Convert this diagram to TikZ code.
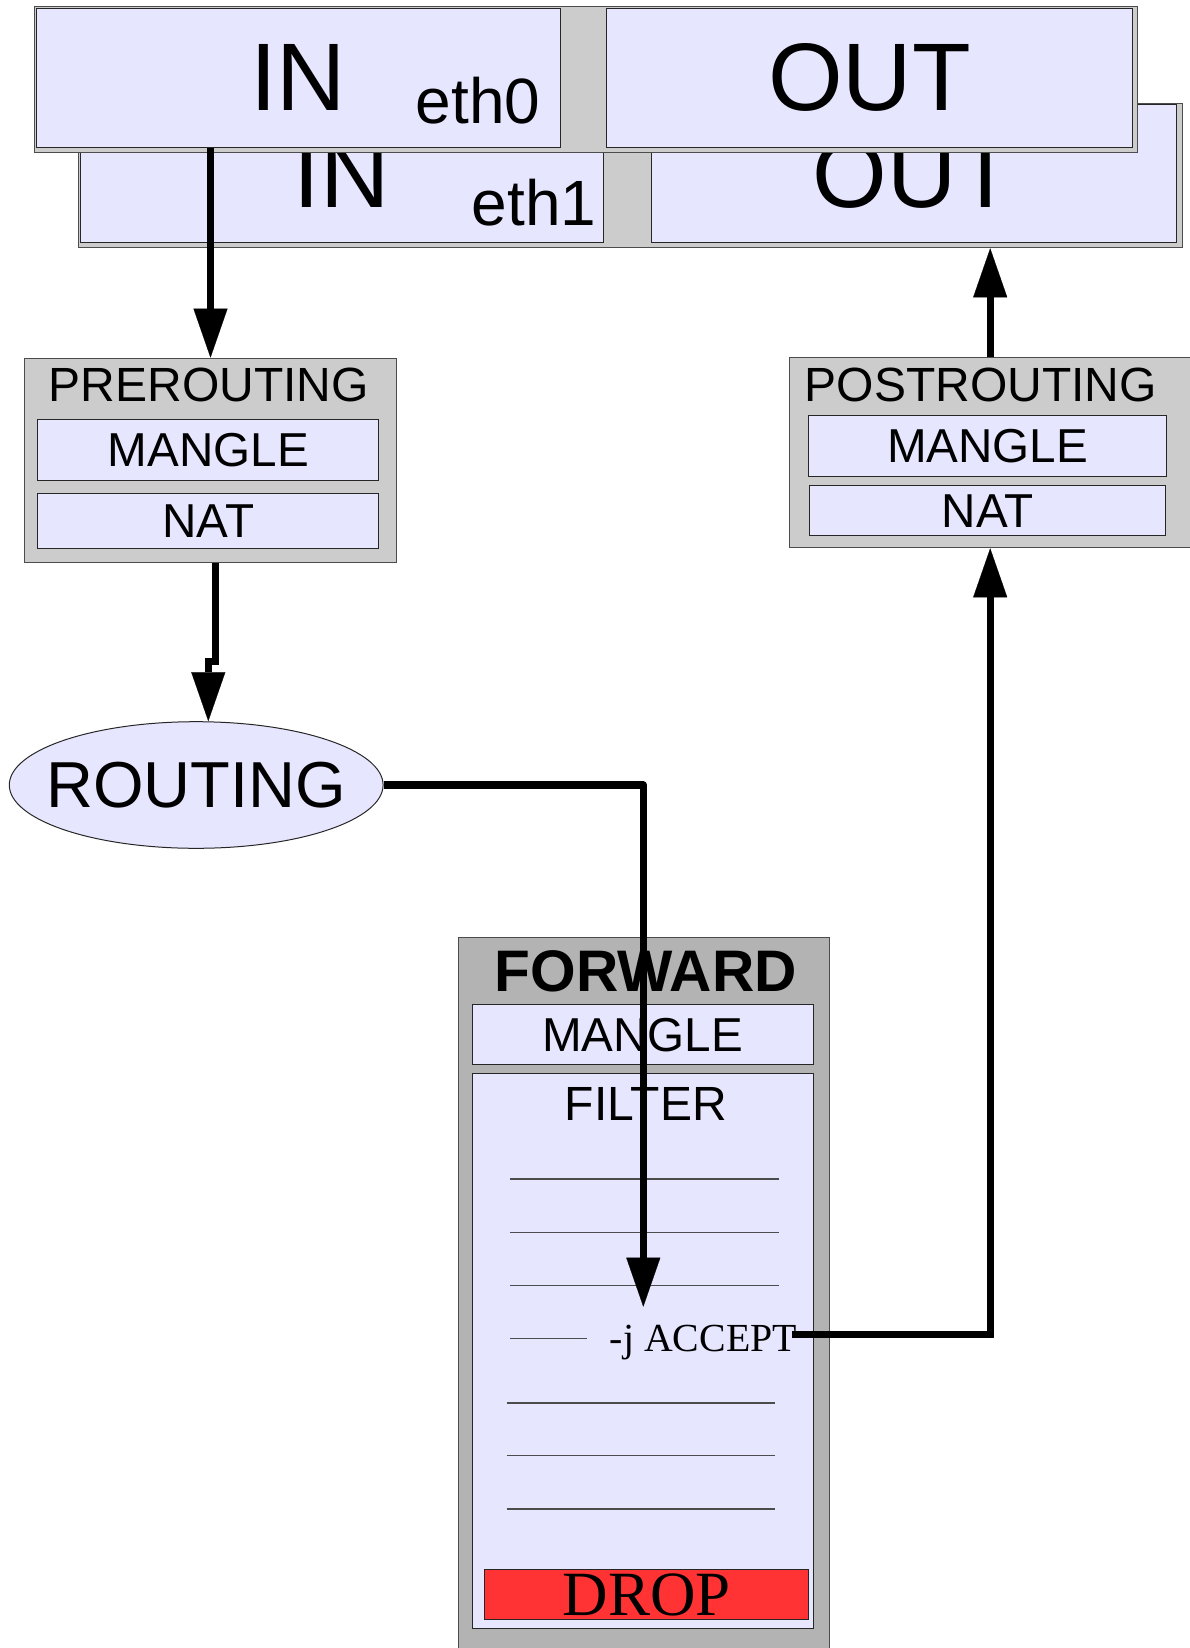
\documentclass[tikz,border=0pt]{standalone}
\usepackage{fontspec}
\setmainfont{Liberation Sans}
\newfontfamily\serifface{Liberation Serif}
\usetikzlibrary{positioning,shapes.geometric,arrows.meta}

\definecolor{tablefill}{RGB}{230,230,255}
\definecolor{chaingray}{RGB}{204,204,204}
\definecolor{fwdgray}{RGB}{179,179,179}
\definecolor{dropred}{RGB}{255,51,51}

\tikzset{
  chainbox/.style={draw=black!70, line width=0.5pt, fill=chaingray, inner sep=0pt, anchor=north west},
  tablebox/.style={draw=black!85, line width=0.5pt, fill=tablefill, inner sep=0pt, font=\fontsize{23.8pt}{24pt}\selectfont},
  iotext/.style={font=\fontsize{48pt}{48pt}\selectfont},
  ethtext/.style={anchor=base west, inner sep=0pt, font=\fontsize{32pt}{32pt}\selectfont},
  titletext/.style={anchor=base, inner sep=0pt, font=\fontsize{24pt}{24pt}\selectfont},
  flow/.style={line width=3.6pt, -{Triangle[width=17pt,length=24.5pt,line width=0.1pt]}},
  ruleline/.style={line width=0.6pt, black!70}
}

\begin{document}
\begin{tikzpicture}[x=0.5pt, y=-0.5pt]
  \useasboundingbox (0,0) rectangle (1189,1648);

  % eth1, behind
  \path (78.3,102.7) node[chainbox, minimum width=552pt, minimum height=72.3pt] (frameB) {};
  \path (79.5,104.5) node[tablebox, iotext, anchor=north west, minimum width=261.9pt, minimum height=69pt] (inB) {IN};
  \path (650.7,104.5) node[tablebox, iotext, anchor=north west, minimum width=262.7pt, minimum height=69pt] (outB) {OUT};
  \path (471.5,226) node[ethtext] (ethB) {eth1};

  % eth0, in front
  \path (34.3,6) node[chainbox, minimum width=551.5pt, minimum height=72.9pt] (frameA) {};
  \path (35.5,8) node[tablebox, iotext, anchor=north west, minimum width=262.3pt, minimum height=69.3pt] (inA) {IN};
  \path (606,8) node[tablebox, iotext, anchor=north west, minimum width=263pt, minimum height=69.3pt] (outA) {OUT};
  \path (415.5,124) node[ethtext] (ethA) {eth0};

  % chains
  \path (24,357.7) node[chainbox, minimum width=186pt, minimum height=102.2pt] (pre) {};
  \path (208.7,401.7) node[titletext] (preTitle) {PREROUTING};
  \path (37.3,419.3) node[tablebox, anchor=north west, minimum width=170.5pt, minimum height=30.4pt] (preMangle) {MANGLE};
  \node[tablebox, minimum width=170.5pt, minimum height=27.8pt, below=5.85pt of preMangle] (preNat) {NAT};

  \path (789.3,357.3) node[chainbox, minimum width=200.4pt, minimum height=95pt] (post) {};
  \path (980.8,401.7) node[titletext] (postTitle) {POSTROUTING};
  \path (808.3,415.3) node[tablebox, anchor=north west, minimum width=178.7pt, minimum height=30.4pt] (postMangle) {MANGLE};
  \node[tablebox, minimum width=178pt, minimum height=24.9pt, below=4.15pt of postMangle] (postNat) {NAT};

  \path (196.2,785) node[ellipse, draw=black!85, line width=0.5pt, fill=tablefill, inner sep=0pt,
    minimum width=186.9pt, minimum height=63.3pt] (routing) {};
  \path (routing) node[font=\fontsize{32.5pt}{33pt}\selectfont] (routingText) {ROUTING};

  \path (458.3,936.7) node[chainbox, fill=fwdgray, minimum width=185.5pt, minimum height=361.7pt] (fwd) {};
  \path (645.8,991.7) node[titletext, font=\fontsize{29.3pt}{29pt}\selectfont\bfseries] (fwdTitle) {FORWARD};
  \path (471.7,1004.3) node[tablebox, anchor=north west, minimum width=170.5pt, minimum height=30pt] (fwdMangle) {MANGLE};
  \node[tablebox, minimum width=170.5pt, minimum height=277.2pt, below=4pt of fwdMangle] (filter) {};
  \path (645.8,1120) node[titletext] (filterTitle) {FILTER};

  % rules of the filter table
  \draw[ruleline] (510,1179) -- (779,1179);
  \draw[ruleline] (510,1232.3) -- (779,1232.3);
  \draw[ruleline] (510,1285.7) -- (779,1285.7);
  \draw[ruleline] (510,1338.7) -- (586.7,1338.7);
  \draw[ruleline] (506.7,1403) -- (775,1403);
  \draw[ruleline] (506.7,1455.7) -- (775,1455.7);
  \draw[ruleline] (506.7,1509) -- (775,1509);
  \path (609.5,1351.7) node[anchor=base west, inner sep=0pt, font=\serifface\fontsize{19.9pt}{20pt}\selectfont] (accept) {-j ACCEPT};

  \path (484.3,1569.3) node[anchor=north west, draw=black!85, line width=0.5pt, fill=dropred, inner sep=0pt,
    minimum width=162pt, minimum height=25pt, font=\serifface\fontsize{31.5pt}{31pt}\selectfont] (drop) {DROP};

  % packet path
  \coordinate (jog) at (208.3,661.7);
  \coordinate (hit) at (643.3,1306.7);
  \draw[flow] (pre.north |- inA.south) -- (pre.north);
  \draw[flow] ([xshift=2.35pt]pre.south) |- (jog) -- (jog |- routing.north);
  \draw[flow, line join=round] (routing.east) -| (hit);
  \draw[flow] ([xshift=-2.5pt,yshift=4pt]accept.east) -| (post.south);
  \draw[flow] (post.north) -- (post.north |- frameB.south);
\end{tikzpicture}
\end{document}
